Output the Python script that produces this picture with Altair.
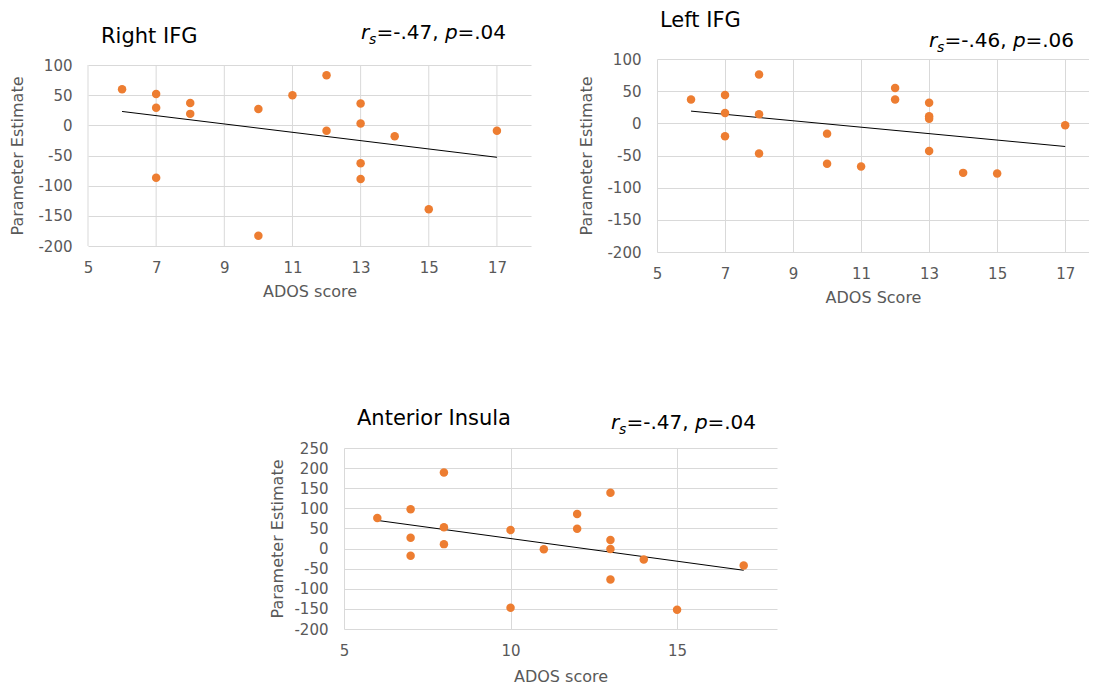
import altair as alt
import pandas as pd

FONT = "DejaVu Sans"
ORANGE = "#ED7D31"
GRID = "#D9D9D9"
LABEL = "#595959"

# ---------------- data ----------------
# Right IFG
rifg_x = [6, 7, 7, 7, 8, 8, 10, 10, 11, 12, 12, 13, 13, 13, 13, 14, 15, 17]
rifg_y = [60, 52, 29, -87, 37, 19, 27, -183, 50, 83, -9, 36, 3, -63, -89, -18, -139, -9]
rifg_trend_x = [6, 17]
rifg_trend_y = [23, -53]

# Left IFG
lifg_x = [6, 7, 7, 7, 8, 8, 8, 10, 10, 11, 12, 12, 13, 13, 13, 13, 14, 15, 17]
lifg_y = [37, 44, 16, -20, 76, 14, -47, -16, -63, -67, 55, 37, 32, 11, 7, -43, -77, -78, -3]
lifg_trend_x = [6, 17]
lifg_trend_y = [19, -36]

# Anterior Insula
ains_x = [6, 7, 7, 7, 8, 8, 8, 10, 10, 11, 12, 12, 13, 13, 13, 13, 14, 15, 17]
ains_y = [76, 98, 27, -18, 189, 53, 11, 46, -147, -2, 86, 49, 139, 21, -1, -77, -27, -152, -42]
ains_trend_x = [6, 17]
ains_trend_y = [70, -54]

titles = ["Right IFG", "Left IFG", "Anterior Insula"]
rs_vals = ["-.47", "-.46", "-.47"]
p_vals = [".04", ".06", ".04"]
x_titles = ["ADOS score", "ADOS Score", "ADOS score"]
y_title = "Parameter Estimate"

ticks_x_odd = [5, 7, 9, 11, 13, 15, 17]
ticks_x_five = [5, 10, 15]
ticks_y_a = [-200, -150, -100, -50, 0, 50, 100]
ticks_y_b = [-200, -150, -100, -50, 0, 50, 100, 150, 200, 250]


def txt(text, x, y, size=20, style="normal", color="black"):
    return alt.Chart(pd.DataFrame({"t": [text]})).mark_text(
        font=FONT, fontSize=size, fontStyle=style, color=color,
        align="left", baseline="alphabetic"
    ).encode(text="t:N", x=alt.value(x), y=alt.value(y))


def annotation(rs, p, x0, y0):
    fs = 20
    return [
        txt("r", x0, y0, fs, "italic"),
        txt("s", x0 + 8, y0 + 5, 14, "italic"),
        txt("=" + rs + ", ", x0 + 15.5, y0, fs),
        txt("p", x0 + 84, y0, fs, "italic"),
        txt("=" + p, x0 + 96.5, y0, fs),
    ]


def panel(xs, ys, tx, ty, title, rs, p, xtitle, xdom, xticks, ydom, yticks,
          width, height, yrange=None, top=0, label_pad_x=14, title_pad_x=22,
          title_pad_y=12, label_pad_y=16, title_pos=(13, -21), ann_pos=(275, -26),
          manual_xgrid=False):
    pts = pd.DataFrame({"x": xs, "y": ys})
    trend = pd.DataFrame({"x": tx, "y": ty})
    if yrange is not None:
        yscale = alt.Scale(domain=ydom, nice=False, zero=False, range=yrange)
    else:
        yscale = alt.Scale(domain=ydom, nice=False, zero=False)
    xscale = alt.Scale(domain=xdom, nice=False, zero=False)
    xaxis = alt.Axis(
        values=xticks, grid=not manual_xgrid, gridColor=GRID, gridWidth=1,
        ticks=False, domain=False, labelFont=FONT, labelFontSize=15,
        labelColor=LABEL, labelPadding=label_pad_x, labelFlush=False,
        titleFont=FONT, titleFontSize=16, titleColor=LABEL,
        titleFontWeight="normal", titlePadding=title_pad_x,
        labelExpr="'' + datum.value",
    )
    yaxis = alt.Axis(
        values=yticks, grid=True, gridColor=GRID, gridWidth=1,
        ticks=False, domain=False, labelFont=FONT, labelFontSize=15,
        labelColor=LABEL, labelPadding=label_pad_y, labelFlush=False,
        titleFont=FONT, titleFontSize=16, titleColor=LABEL,
        titleFontWeight="normal", titlePadding=title_pad_y,
        labelExpr="'' + datum.value",
    )
    layers = []
    if manual_xgrid:
        gdf = pd.DataFrame({"x": xticks})
        layers.append(
            alt.Chart(gdf).mark_rule(color=GRID, strokeWidth=1).encode(
                x=alt.X("x:Q", scale=xscale, axis=xaxis, title=xtitle),
                y=alt.datum(ydom[0], scale=yscale, axis=yaxis, title=y_title),
                y2=alt.datum(ydom[1]),
            )
        )
    layers.append(
        alt.Chart(trend).mark_line(color="black", strokeWidth=1).encode(
            x=alt.X("x:Q", scale=xscale, axis=xaxis, title=xtitle),
            y=alt.Y("y:Q", scale=yscale, axis=yaxis, title=y_title),
        )
    )
    layers.append(
        alt.Chart(pts).mark_circle(color=ORANGE, opacity=1, size=72).encode(
            x=alt.X("x:Q", scale=xscale, axis=xaxis, title=xtitle),
            y=alt.Y("y:Q", scale=yscale, axis=yaxis, title=y_title),
        )
    )
    layers.append(txt(title, title_pos[0], top + title_pos[1], 21))
    layers += annotation(rs, p, ann_pos[0], top + ann_pos[1])
    return alt.layer(*layers).properties(width=width, height=height)


p1 = panel(rifg_x, rifg_y, rifg_trend_x, rifg_trend_y, titles[0], rs_vals[0], p_vals[0],
           x_titles[0], [5, 18], ticks_x_odd, [-200, 100], ticks_y_a,
           443, 193, yrange=[187, 6], top=6, label_pad_x=8, title_pad_x=8,
           title_pad_y=12, label_pad_y=16, title_pos=(13, -22), ann_pos=(273, -26),
           manual_xgrid=True)

p2 = panel(lifg_x, lifg_y, lifg_trend_x, lifg_trend_y, titles[1], rs_vals[1], p_vals[1],
           x_titles[1], [5, 17.7], ticks_x_odd, [-200, 100], ticks_y_a,
           432, 193, top=0, label_pad_x=14, title_pad_x=8,
           title_pad_y=12, label_pad_y=16, title_pos=(3, -32), ann_pos=(272, -12))

p3 = panel(ains_x, ains_y, ains_trend_x, ains_trend_y, titles[2], rs_vals[2], p_vals[2],
           x_titles[2], [5, 18], ticks_x_five, [-200, 250], ticks_y_b,
           433, 181, top=0, label_pad_x=14, title_pad_x=10,
           title_pad_y=8, label_pad_y=16, title_pos=(13, -23), ann_pos=(267, -19))

spacer = alt.Chart(pd.DataFrame({"a": [0]})).mark_point(opacity=0, size=1).encode(
    x=alt.value(10), y=alt.value(5)
).properties(width=181, height=10)

row1 = alt.hconcat(p1, p2, spacing=47)
row2 = alt.hconcat(spacer, p3, spacing=0)

chart = alt.vconcat(row1, row2, spacing=103).properties(
    padding={"left": 1, "top": 2, "right": 0, "bottom": 0},
    background="white",
).configure_view(strokeOpacity=0, strokeWidth=0)

chart.save("out.html", embed_options={"renderer": "svg", "actions": False})
